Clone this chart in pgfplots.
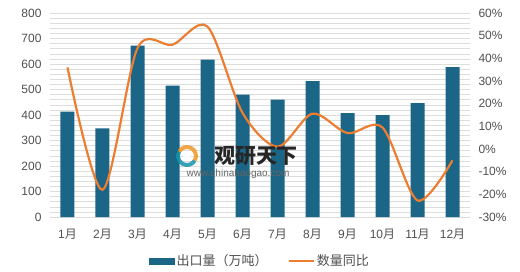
\documentclass[border=0pt]{standalone}
\usepackage{pgfplots}
\pgfplotsset{compat=1.18}
\usepackage{fontspec}
\setmainfont{Liberation Sans}
\newfontfamily\cjk{Noto Sans CJK SC}
\definecolor{barc}{HTML}{1B6586}
\definecolor{linec}{HTML}{ED7D31}
\definecolor{txt}{HTML}{505050}
\definecolor{gridc}{HTML}{DDDDDD}
\newcommand\yue{{\cjk 月}}
\begin{document}
\begin{tikzpicture}[x=1pt,y=1pt]
\useasboundingbox (-50,-54) rectangle (470,217);
\begin{axis}[
  at={(0,0)}, anchor=south west, scale only axis, width=420pt, height=204pt,
  xmin=-0.5, xmax=11.5, ymin=0, ymax=800,
  ytick={0,100,...,800}, minor y tick num=4,
  ymajorgrids, yminorgrids,
  major grid style={gridc, line width=0.6pt},
  minor grid style={gridc, line width=0.6pt},
  axis line style={draw=none},
  xtick={0,...,11},
  xticklabels={1\yue,2\yue,3\yue,4\yue,5\yue,6\yue,7\yue,8\yue,9\yue,10\yue,11\yue,12\yue},
  major tick style={draw=none}, minor tick style={draw=none},
  ticklabel style={font=\fontsize{12}{13}\selectfont, text=txt},
  yticklabel style={xshift=-5pt},
  xticklabel style={yshift=-4pt},
  /pgf/number format/assume math mode=true,
  ybar, bar width=14pt,
  clip=false]
\addplot[fill=barc, draw=none] coordinates {
 (0,413) (1,348) (2,672) (3,515) (4,617) (5,480) (6,460) (7,533) (8,407) (9,400) (10,447) (11,588)};
\end{axis}
\begin{axis}[
  at={(0,0)}, anchor=south west, scale only axis, width=420pt, height=204pt,
  xmin=-0.5, xmax=11.5, ymin=-30, ymax=60,
  axis x line=none, axis y line*=right,
  axis line style={draw=none},
  ytick={-30,-20,...,60},
  yticklabel={\pgfmathprintnumber{\tick}\%},
  major tick style={draw=none},
  ticklabel style={font=\fontsize{12}{13}\selectfont, text=txt},
  yticklabel style={xshift=5pt},
  /pgf/number format/assume math mode=true,
  legend columns=2,
  legend style={draw=none, at={(0.5,-0.215)}, anchor=center,
    font=\cjk\fontsize{13}{14}\selectfont, text=txt,
    /tikz/every even column/.append style={column sep=18pt}},
  clip=false]
\addlegendimage{legend image code/.code={\fill[barc] (0pt,-3pt) rectangle (25pt,3pt);}}
\addlegendentry{出口量（万吨）}
\addplot[linec, line width=2.2pt, smooth, tension=0.5, mark=none,
  legend image code/.code={\draw[linec, line width=2.2pt] (0pt,0pt) -- (25pt,0pt);}]
  coordinates {
 (0,36) (1,-18) (2,44.5) (3,46) (4,54) (5,16) (6,1) (7,15.6) (8,7) (9,9.5) (10,-22.7) (11,-5)};
\addlegendentry{数量同比}
\end{axis}
% watermark
\begin{scope}[opacity=0.85]
\draw[barc!70!cyan, line width=4pt] (137,61) ++(150:9) arc (150:330:9);
\draw[linec!80!yellow, line width=4pt] (137,61) ++(-30:9) arc (-30:150:9);
\fill[white] (137,61) circle (4);
\end{scope}
\node[font=\cjk\bfseries\fontsize{21}{22}\selectfont, text=black!85] at (206,61) {观研天下};
\node[font=\fontsize{10}{11}\selectfont, text=black!60] at (188,43) {www.chinabaogao.com};
\end{tikzpicture}
\end{document}
